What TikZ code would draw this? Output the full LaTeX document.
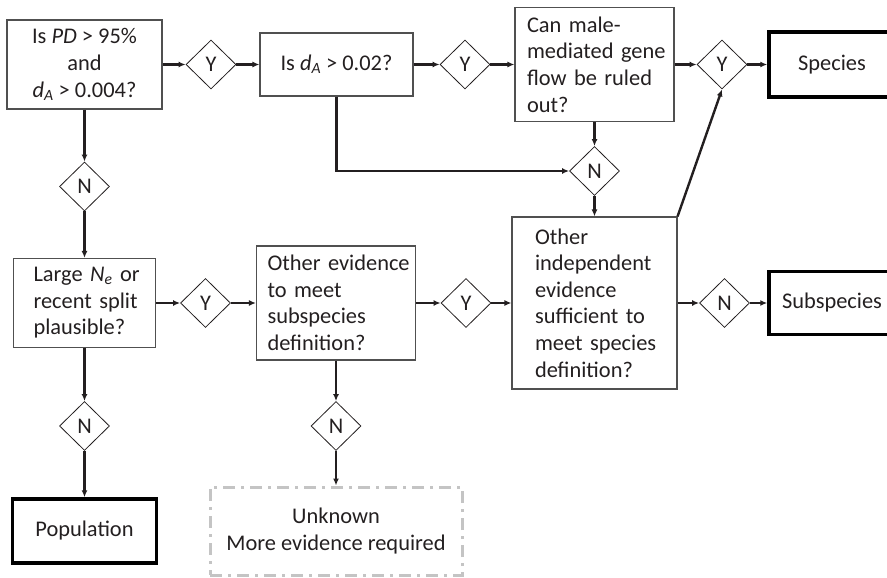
\documentclass[tikz,border=0pt]{standalone}
\usepackage{fontspec}
\setmainfont{Carlito}
\usetikzlibrary{shapes.geometric,arrows.meta}
\definecolor{ink}{HTML}{231F20}
\definecolor{boxline}{HTML}{505050}
\definecolor{dashgray}{HTML}{C4C4C4}
\newcommand\oneline[1]{\mbox{#1}}
\begin{document}
\begin{tikzpicture}[x=1pt,y=-1pt,
  font=\fontsize{22.4}{26.6}\selectfont, text=ink,
  qbox/.style={draw=boxline, line width=1.1pt, rectangle, inner ysep=0pt, inner xsep=4pt},
  endbox/.style={draw=black, line width=3.5pt, rectangle, inner sep=0pt},
  dec/.style={draw=ink, line width=0.8pt, diamond, minimum width=50pt, minimum height=49pt, inner sep=0pt},
  arr/.style={draw=ink, line width=2.4pt, -{Latex[length=7pt,width=6pt]}},
  ]
\path[use as bounding box, clip] (0,0) rectangle (887,578);

% row 1
\node[qbox, minimum width=155pt, minimum height=89pt, align=center] (A) at (84.5,64.5)
  {Is \textit{PD} > 95\%\\and\\\textit{d}\textsubscript{\textit{A}} > 0.004?};
\node[dec] (Y1) at (211,64.5) {Y};
\node[qbox, minimum width=153pt, minimum height=63pt, align=center] (B) at (336.5,64.5)
  {Is \textit{d}\textsubscript{\textit{A}} > 0.02?};
\node[dec] (Y2) at (465,64.5) {Y};
\node[qbox, text width=135pt, inner xsep=12pt, minimum height=114pt, align=left] (C) at (594.5,64.5)
  {\oneline{Can male-}\\\oneline{mediated gene}\\\oneline{flow be ruled}\\\oneline{out?}};
\node[dec] (Y3) at (722,64.5) {Y};
\node[endbox, minimum width=126pt, minimum height=65pt] (S) at (832,64.5) {Species};

% middle diamonds
\node[dec] (N1) at (84.5,186.5) {N};
\node[dec] (N2) at (594.5,171) {N};

% row 2
\node[qbox, text width=102pt, inner xsep=20pt, minimum height=89pt, align=left] (E) at (84.5,303)
  {\oneline{Large \textit{N}\textsubscript{\textit{e}} or}\\\oneline{recent split}\\\oneline{plausible?}};
\node[dec] (Y4) at (205.5,303) {Y};
\node[qbox, text width=137pt, inner xsep=11pt, minimum height=114pt, align=left] (F) at (336,303)
  {\oneline{Other evidence}\\\oneline{to meet}\\\oneline{subspecies}\\\oneline{definition?}};
\node[dec] (Y5) at (466,303) {Y};
\node[qbox, text width=119pt, inner xsep=23pt, minimum height=172pt, align=left] (D) at (594.5,303)
  {\oneline{Other}\\\oneline{independent}\\\oneline{evidence}\\\oneline{sufficient to}\\\oneline{meet species}\\\oneline{definition?}};
\node[dec] (N3) at (724.5,303) {N};
\node[endbox, minimum width=126pt, minimum height=63pt] (SS) at (832,303) {Subspecies};

% row 3
\node[dec] (N4) at (84.5,426) {N};
\node[dec] (N5) at (336,426) {N};
\node[endbox, minimum width=144pt, minimum height=64pt] (P) at (84.5,531) {Population};
\node[draw=dashgray, line width=3pt, dash pattern=on 12pt off 6pt on 3pt off 6pt,
  minimum width=252pt, minimum height=88pt, inner sep=0pt, align=center] (U) at (336,531)
  {Unknown\\More evidence required};

% connectors
\draw[arr] (A.east) -- (Y1.west);
\draw[arr] (Y1.east) -- (B.west);
\draw[arr] (B.east) -- (Y2.west);
\draw[arr] (Y2.east) -- (C.west);
\draw[arr] (C.east) -- (Y3.west);
\draw[arr] (Y3.east) -- (S.west);
\draw[arr] (A.south) -- (N1.north);
\draw[arr] (N1.south) -- (E.north);
\draw[arr] (E.east) -- (Y4.west);
\draw[arr] (Y4.east) -- (F.west);
\draw[arr] (F.east) -- (Y5.west);
\draw[arr] (Y5.east) -- (D.west);
\draw[arr] (D.east) -- (N3.west);
\draw[arr] (N3.east) -- (SS.west);
\draw[arr] (E.south) -- (N4.north);
\draw[arr] (N4.south) -- (P.north);
\draw[arr] (F.south) -- (N5.north);
\draw[arr] (N5.south) -- (U.north);
\draw[arr] (B.south) |- (N2.west);
\draw[arr] (C.south) -- (N2.north);
\draw[arr] (N2.south) -- (D.north);
\draw[arr] (D.north east) -- (Y3.south);
\end{tikzpicture}
\end{document}
